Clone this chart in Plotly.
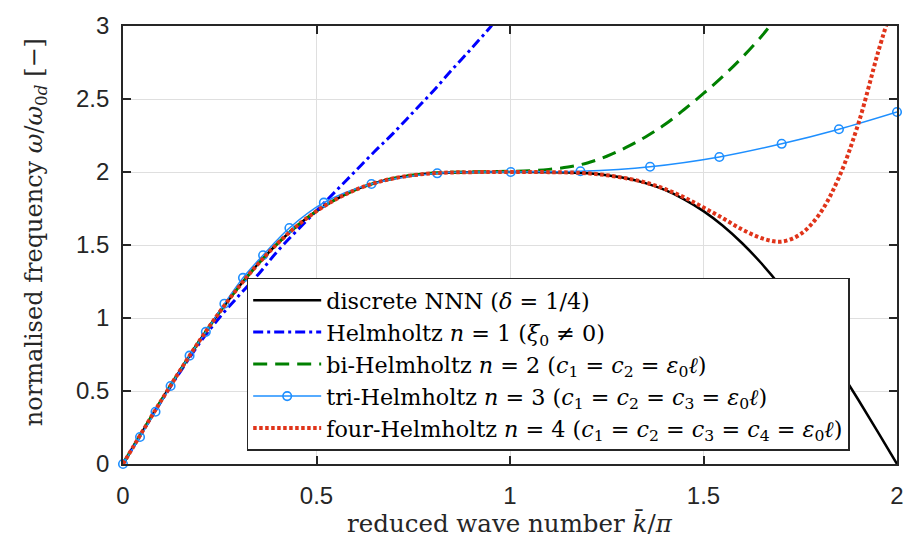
import plotly.graph_objects as go

# ---------------- data ----------------
x_disc = [0.00, 0.05, 0.10, 0.15, 0.20, 0.25, 0.30, 0.35, 0.40, 0.45,
          0.50, 0.55, 0.60, 0.65, 0.70, 0.75, 0.80, 0.85, 0.90, 0.95,
          1.00, 1.05, 1.10, 1.15, 1.20, 1.25, 1.30, 1.35, 1.40, 1.45,
          1.50, 1.55, 1.60, 1.65, 1.70, 1.75, 1.80, 1.85, 1.90, 1.95, 2.00]
y_disc = [0.000, 0.222, 0.440, 0.651, 0.853, 1.042, 1.216, 1.373, 1.512, 1.632,
          1.732, 1.813, 1.877, 1.924, 1.957, 1.978, 1.991, 1.997, 1.999, 2.000,
          2.000, 2.000, 1.999, 1.997, 1.991, 1.978, 1.957, 1.924, 1.877, 1.813,
          1.732, 1.632, 1.512, 1.373, 1.216, 1.042, 0.853, 0.651, 0.440, 0.222, 0.000]

x_helm1 = [0.00, 0.05, 0.10, 0.15, 0.20, 0.25, 0.30, 0.35, 0.40, 0.45,
           0.50, 0.55, 0.60, 0.65, 0.70, 0.75, 0.80, 0.85, 0.90, 0.95, 0.97]
y_helm1 = [0.000, 0.220, 0.435, 0.640, 0.835, 1.005, 1.155, 1.300, 1.460, 1.600,
           1.735, 1.870, 2.005, 2.140, 2.270, 2.410, 2.550, 2.700, 2.845, 2.995, 3.060]

x_helm2 = [0.00, 0.05, 0.10, 0.15, 0.20, 0.25, 0.30, 0.35, 0.40, 0.45,
           0.50, 0.55, 0.60, 0.65, 0.70, 0.75, 0.80, 0.85, 0.90, 0.95,
           1.00, 1.05, 1.10, 1.15, 1.20, 1.25, 1.30, 1.35, 1.40, 1.45,
           1.50, 1.55, 1.60, 1.65, 1.68]
y_helm2 = [0.000, 0.222, 0.440, 0.651, 0.853, 1.042, 1.216, 1.373, 1.512, 1.632,
           1.732, 1.813, 1.877, 1.924, 1.957, 1.979, 1.993, 1.999, 2.001, 2.003,
           2.005, 2.009, 2.018, 2.034, 2.062, 2.108, 2.168, 2.240, 2.325, 2.428,
           2.538, 2.655, 2.785, 2.930, 3.030]

x_helm3 = [0.000, 0.044, 0.084, 0.123, 0.172, 0.214, 0.262, 0.310, 0.362, 0.430,
           0.519, 0.642, 0.812, 1.002, 1.182, 1.362, 1.541, 1.702, 1.850, 2.000]
y_helm3 = [0.000, 0.185, 0.358, 0.534, 0.742, 0.905, 1.098, 1.275, 1.430, 1.616,
           1.790, 1.918, 1.991, 2.000, 2.005, 2.036, 2.103, 2.193, 2.293, 2.411]

x_helm4 = [0.00, 0.05, 0.10, 0.15, 0.20, 0.25, 0.30, 0.35, 0.40, 0.45,
           0.50, 0.55, 0.60, 0.65, 0.70, 0.75, 0.80, 0.85, 0.90, 0.95,
           1.00, 1.05, 1.10, 1.15, 1.20, 1.25, 1.30, 1.35, 1.40, 1.45,
           1.50, 1.55, 1.60, 1.65, 1.70, 1.75, 1.80, 1.85, 1.90, 1.95, 1.975]
y_helm4 = [0.000, 0.222, 0.440, 0.651, 0.853, 1.042, 1.216, 1.373, 1.512, 1.632,
           1.732, 1.813, 1.877, 1.924, 1.957, 1.978, 1.991, 1.997, 1.999, 2.000,
           2.000, 2.000, 1.999, 1.997, 1.991, 1.978, 1.957, 1.928, 1.884, 1.826,
           1.757, 1.683, 1.606, 1.547, 1.523, 1.573, 1.713, 1.963, 2.330, 2.810, 3.030]

x_ticks = [0, 0.5, 1, 1.5, 2]
x_tick_labels = ["0", "0.5", "1", "1.5", "2"]
y_ticks = [0, 0.5, 1, 1.5, 2, 2.5, 3]
y_tick_labels = ["0", "0.5", "1", "1.5", "2", "2.5", "3"]

names = [
    "discrete NNN (<i>δ</i> = 1/4)",
    "Helmholtz <i>n</i> = 1 (<i>ξ</i><sub>0</sub> ≠ 0)",
    "bi-Helmholtz <i>n</i> = 2 (<i>c</i><sub>1</sub> = <i>c</i><sub>2</sub> = <i>ε</i><sub>0</sub><i>ℓ</i>)",
    "tri-Helmholtz <i>n</i> = 3 (<i>c</i><sub>1</sub> = <i>c</i><sub>2</sub> = <i>c</i><sub>3</sub> = <i>ε</i><sub>0</sub><i>ℓ</i>)",
    "four-Helmholtz <i>n</i> = 4 (<i>c</i><sub>1</sub> = <i>c</i><sub>2</sub> = <i>c</i><sub>3</sub> = <i>c</i><sub>4</sub> = <i>ε</i><sub>0</sub><i>ℓ</i>)",
]

SERIF = "DejaVu Serif"
SANS = "Liberation Sans"
AX = "#262626"

fig = go.Figure()
fig.add_trace(go.Scatter(x=x_disc, y=y_disc, mode="lines", name=names[0],
                         line=dict(color="black", width=2.5, shape="spline")))
fig.add_trace(go.Scatter(x=x_helm1, y=y_helm1, mode="lines", name=names[1],
                         line=dict(color="#0000ff", width=3, dash="10px,4px,3px,4px", shape="spline")))
fig.add_trace(go.Scatter(x=x_helm2, y=y_helm2, mode="lines", name=names[2],
                         line=dict(color="#008000", width=3, dash="14px,8px", shape="spline")))
fig.add_trace(go.Scatter(x=x_helm3, y=y_helm3, mode="lines+markers", name=names[3],
                         cliponaxis=False,
                         line=dict(color="#1e8fff", width=1.5, shape="spline"),
                         marker=dict(symbol="circle-open", size=8.5, color="#1e8fff",
                                     line=dict(width=1.6, color="#1e8fff"))))
fig.add_trace(go.Scatter(x=x_helm4, y=y_helm4, mode="lines", name=names[4],
                         line=dict(color="#e0341a", width=4, dash="3.5px,2.5px", shape="spline")))

axis_common = dict(
    showline=True, linecolor=AX, linewidth=1.6, mirror="ticks",
    ticks="inside", ticklen=8, tickwidth=1.5, tickcolor=AX,
    showgrid=True, gridcolor="#dfdfdf", gridwidth=1,
    zeroline=False,
    tickfont=dict(family=SANS, size=24, color=AX),
)

fig.update_xaxes(range=[0, 2], tickvals=x_ticks, ticktext=x_tick_labels,
                 ticklabelstandoff=9, **axis_common)
fig.update_yaxes(range=[0, 3], tickvals=y_ticks, ticktext=y_tick_labels,
                 ticklabelstandoff=7, **axis_common)

fig.update_layout(
    width=916, height=544,
    margin=dict(l=123, r=17, t=16, b=80),
    plot_bgcolor="white", paper_bgcolor="white",
    showlegend=True,
    legend=dict(x=0.1598, y=0.4255, xanchor="left", yanchor="top",
                bgcolor="white", bordercolor=AX, borderwidth=1.5,
                font=dict(family=SERIF, size=22.3, color="black"),
                itemwidth=68, tracegroupgap=0),
    annotations=[
        dict(text="reduced wave number <i>k̄</i>/<i>π</i>", xref="paper", yref="paper",
             x=0.5, y=-0.136, xanchor="center", yanchor="middle", showarrow=False,
             font=dict(family=SERIF, size=24.5, color=AX)),
        dict(text="normalised frequency <i>ω</i>/<i>ω</i><sub>0<i>d</i></sub> [−]",
             xref="paper", yref="paper", x=-0.112, y=0.53, textangle=-90,
             xanchor="center", yanchor="middle", showarrow=False,
             font=dict(family=SERIF, size=24, color=AX)),
    ],
)

fig.write_html("out.html")
